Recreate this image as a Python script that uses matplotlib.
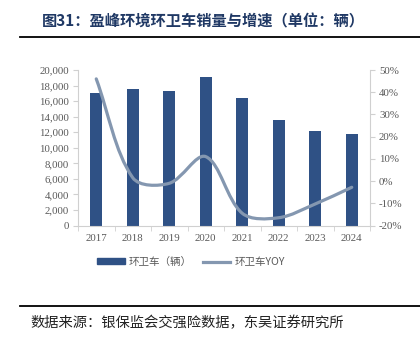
import matplotlib
matplotlib.use('Agg')
import numpy as np
import matplotlib.pyplot as plt
from matplotlib.path import Path
from matplotlib.patches import PathPatch, Patch
from matplotlib.lines import Line2D

years = ['2017', '2018', '2019', '2020', '2021', '2022', '2023', '2024']
sales = [17100, 17500, 17300, 19100, 16400, 13600, 12200, 11800]   # 环卫车（辆）
yoy = [46, 1.5, -1, 11, -14.5, -16.5, -10.3, -2.8]                # 环卫车YOY, %
left_ticks = list(range(0, 20001, 2000))
right_ticks = list(range(-20, 51, 10))

bar_color = '#2f5185'
line_color = '#8497b0'
axis_grey = '#d0d0d0'
text_grey = '#595959'
cjk = ['Noto Sans CJK SC', 'DejaVu Sans']
num_font = 'Liberation Serif'


def smooth_path(ax, xs, ys, f=1 / 3):
	# bezier through the points, tangents scaled by neighbouring segment lengths (in pixels)
	# so the curve does not overshoot much, roughly like Excel's smoothed line
	trans = ax.transData
	pts = trans.transform(np.column_stack([xs, ys]).astype(float))
	n = len(pts)
	c_out = np.zeros_like(pts)
	c_in = np.zeros_like(pts)
	for i in range(n):
		p0 = pts[max(i - 1, 0)]
		p2 = pts[min(i + 1, n - 1)]
		d01 = np.hypot(*(pts[i] - p0))
		d12 = np.hypot(*(p2 - pts[i]))
		tot = d01 + d12
		t = p2 - p0
		c_out[i] = pts[i] + t * (d12 / tot) * f
		c_in[i] = pts[i] - t * (d01 / tot) * f
	verts = [pts[0]]
	codes = [Path.MOVETO]
	for i in range(n - 1):
		verts += [c_out[i], c_in[i + 1], pts[i + 1]]
		codes += [Path.CURVE4] * 3
	verts = trans.inverted().transform(np.array(verts))
	return Path(verts, codes)


fig = plt.figure(figsize=(4.2, 3.52), dpi=100)
ax = fig.add_axes([78 / 420, 1 - 225.5 / 352, (370 - 78) / 420, 155.5 / 352])

x = np.arange(len(years))
ax.bar(x, sales, width=0.33, color=bar_color)
ax.set_xlim(-0.5, len(years) - 0.5)
ax.set_ylim(0, 20000)
ax.set_yticks(left_ticks)
ax.set_yticklabels([f'{v:,}' for v in left_ticks], fontfamily=num_font, fontsize=7.8, color=text_grey)
ax.set_xticks(x)
ax.set_xticklabels(years, fontfamily=num_font, fontsize=7.8, color=text_grey)
ax.set_xticks(np.arange(-0.5, len(years)), minor=True)
ax.tick_params(axis='x', which='major', length=0, pad=6)
ax.tick_params(axis='x', which='minor', length=3.5, color=axis_grey, direction='out')
ax.tick_params(axis='y', length=3.5, color=axis_grey, pad=3)
for s in ['top', 'right']:
	ax.spines[s].set_visible(False)
for s in ['left', 'bottom']:
	ax.spines[s].set_color(axis_grey)
	ax.spines[s].set_linewidth(0.8)

ax2 = ax.twinx()
ax2.set_ylim(-20, 50)
ax2.set_yticks(right_ticks)
ax2.set_yticklabels([f'{v}%' for v in right_ticks], fontfamily=num_font, fontsize=7.8, color=text_grey)
ax2.tick_params(axis='y', length=3.5, color=axis_grey, pad=3)
for s in ['top', 'left', 'bottom']:
	ax2.spines[s].set_visible(False)
ax2.spines['right'].set_color(axis_grey)
ax2.spines['right'].set_linewidth(0.8)
ax2.add_patch(PathPatch(smooth_path(ax2, x, yoy), fill=False, edgecolor=line_color, lw=2.3, capstyle='round'))

handles = [Patch(color=bar_color), Line2D([], [], color=line_color, lw=2.3)]
fig.legend(handles, ['环卫车（辆）', '环卫车YOY'], loc='center', bbox_to_anchor=(191 / 420, 1 - 262 / 352),
	ncol=2, frameon=False, prop={'family': cjk, 'size': 7.6}, labelcolor=text_grey,
	handlelength=2.6, handleheight=0.55, columnspacing=1.0, handletextpad=0.4)

fig.text(42 / 420, 1 - 21.5 / 352, '图31：盈峰环境环卫车销量与增速（单位：辆）', family=cjk, fontsize=11,
	fontweight='bold', color='#1f3864', va='center', ha='left')
fig.add_artist(Line2D([20 / 420, 1], [1 - 36.5 / 352] * 2, color='black', lw=1.3))
fig.add_artist(Line2D([20 / 420, 1], [1 - 306 / 352] * 2, color='black', lw=1.3))
fig.text(30 / 420, 1 - 322.5 / 352, '数据来源：银保监会交强险数据，东吴证券研究所', family=cjk, fontsize=10.3,
	color='#222222', va='center', ha='left')

fig.savefig('out.png', dpi=100)
